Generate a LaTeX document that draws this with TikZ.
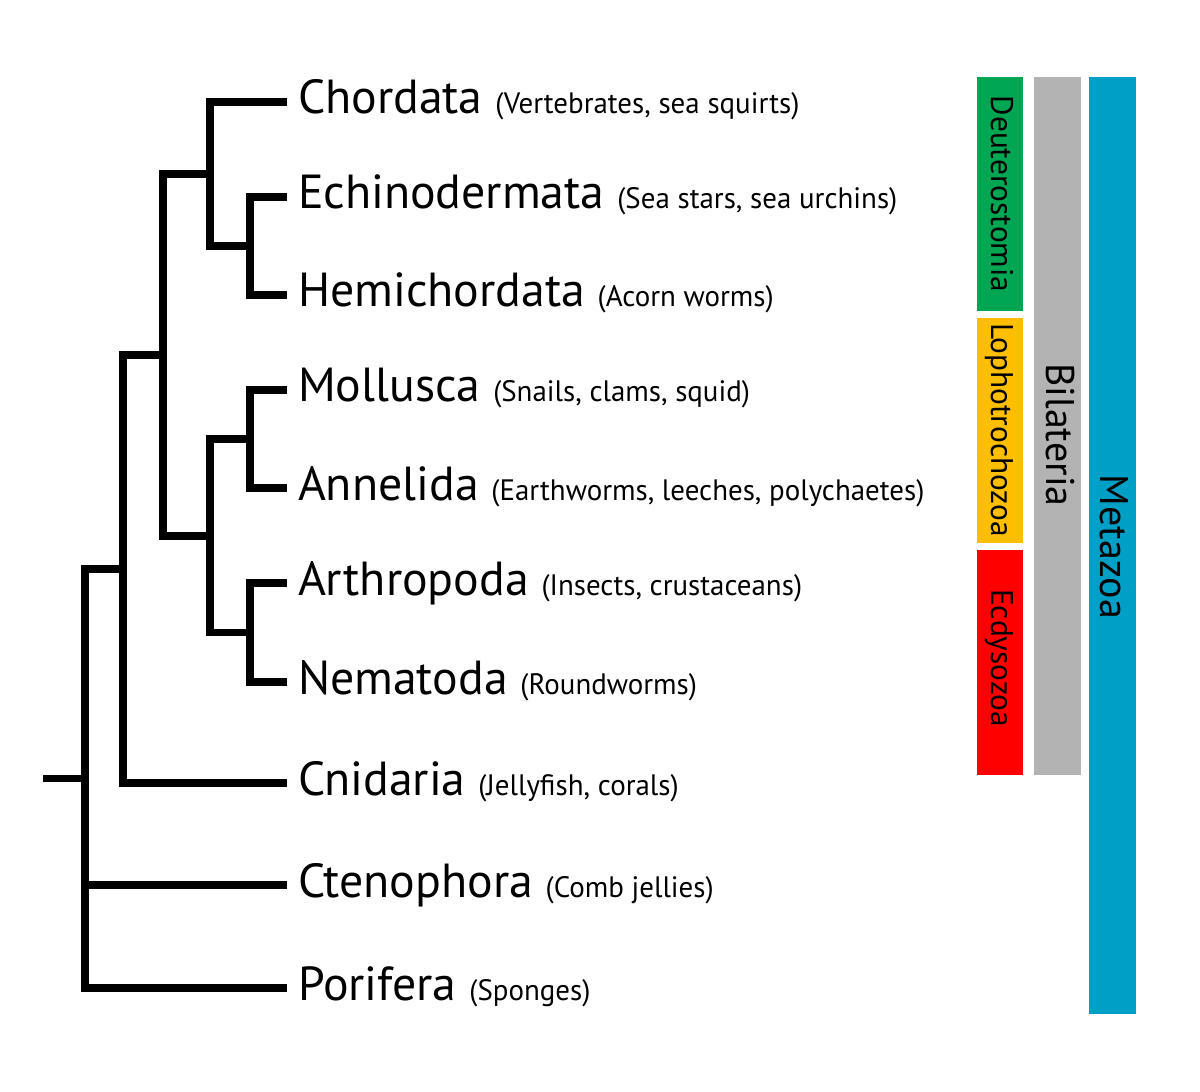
\documentclass[tikz,border=0pt]{standalone}
\usepackage{fontspec}
\setmainfont{PT Sans}
\newfontfamily\commonfont[FakeStretch=0.98]{PT Sans}
\usetikzlibrary{positioning}
\definecolor{deutc}{HTML}{00A651}
\definecolor{lophoc}{HTML}{FFBF00}
\definecolor{ecdyc}{HTML}{FF0000}
\definecolor{bilc}{HTML}{B3B3B3}
\definecolor{metac}{HTML}{00A0C6}
\tikzset{
  branch/.style = {draw=black, line width=5.3pt, line join=miter, line cap=butt},
  taxon/.style  = {font=\fontsize{34}{36}\selectfont, anchor=base west, inner sep=0pt, outer sep=0pt},
  barlab/.style = {font=\fontsize{22.3}{24}\selectfont, anchor=base, rotate=-90, inner sep=0pt, outer sep=0pt},
  barlabb/.style= {barlab, font=\fontsize{28.5}{30}\selectfont},
}

\begin{document}
\begin{tikzpicture}[x=0.25mm,y=-0.25mm]
\path[use as bounding box] (0,0) rectangle (1200,1092);

% ---- the taxa -----------------------------------------------------------
\foreach \id/\y/\name/\common in {%
  chordata/102/Chordata/{Vertebrates, sea squirts},
  echinodermata/197/Echinodermata/{Sea stars, sea urchins},
  hemichordata/295/Hemichordata/{Acorn worms},
  mollusca/390/Mollusca/{Snails, clams, squid},
  annelida/488/Annelida/{Earthworms, leeches, polychaetes},
  arthropoda/583/Arthropoda/{Insects, crustaceans},
  nematoda/682/Nematoda/{Roundworms},
  cnidaria/783/Cnidaria/{Jellyfish, corals},
  ctenophora/885/Ctenophora/{Comb jellies},
  porifera/988/Porifera/{Sponges}}{%
  \coordinate (\id) at (287,\y);
  \node[taxon] (lab-\id) at (298,\y+12) {\name{} {\fontsize{21}{24}\commonfont(\common)}};
}

% ---- the clades ---------------------------------------------------------
\coordinate (ambul) at (250,246);
\coordinate (deut)  at (210,174);
\coordinate (lopho) at (250,439);
\coordinate (ecdy)  at (250,632.5);
\coordinate (proto) at (210,536);
\coordinate (bil)   at (163,355);
\coordinate (eumet) at (123,569);
\coordinate (metaz) at (85,778.5);
\coordinate (stem)  at (43,778.5);

\draw[branch] (chordata) -| (deut) |- (ambul);
\draw[branch] (echinodermata) -| (ambul) |- (hemichordata);
\draw[branch] (mollusca) -| (lopho) |- (annelida);
\draw[branch] (arthropoda) -| (ecdy) |- (nematoda);
\draw[branch] (lopho) -| (proto) |- (ecdy);
\draw[branch] (deut) -| (bil) |- (proto);
\draw[branch] (bil) -| (eumet) |- (cnidaria);
\draw[branch] (eumet) -| (metaz) |- (porifera);
\draw[branch] (metaz) |- (ctenophora);
\draw[branch] (stem) -- (metaz);

% ---- the bars -----------------------------------------------------------
\fill[deutc]  (977,77)   rectangle (1023,311);
\fill[lophoc] (977,318)  rectangle (1023,543);
\fill[ecdyc]  (977,550)  rectangle (1023,775);
\fill[bilc]   (1034,77)  rectangle (1081,775);
\fill[metac]  (1089,77)  rectangle (1136,1014);
\node[barlab]  (deuterostomia)  at (991,194)   {Deuterostomia};
\node[barlab]  (lophotrochozoa) at (991,430)   {Lophotrochozoa};
\node[barlab]  (ecdysozoa)      at (991,658)   {Ecdysozoa};
\node[barlabb] (bilateria)      at (1046,435)  {Bilateria};
\node[barlabb] (metazoa)        at (1100,547)  {Metazoa};

\end{tikzpicture}
\end{document}
